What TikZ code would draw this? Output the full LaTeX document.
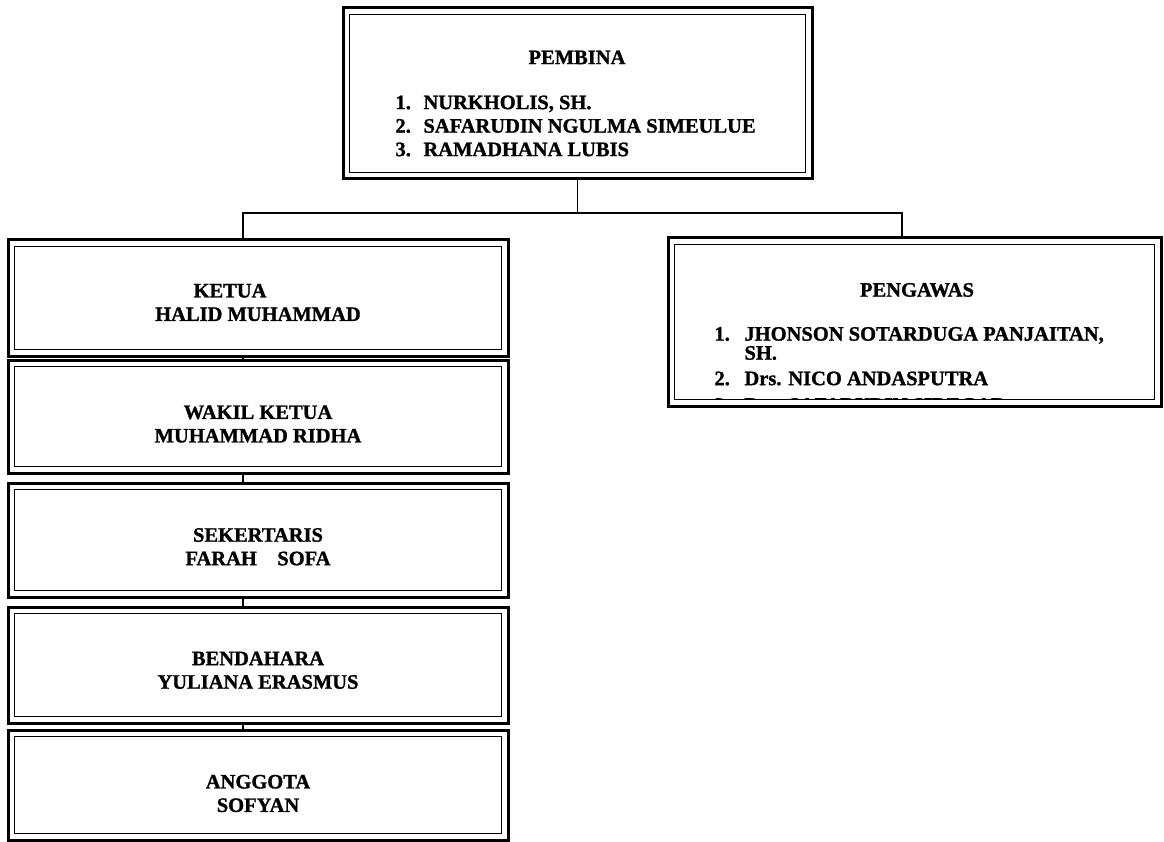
\documentclass[tikz,border=0pt]{standalone}
\usepackage{fontspec}
\setmainfont[BoldFeatures={FakeBold=1.2}]{Liberation Serif}
\newcommand\listline[3]{\makebox[#3pt][l]{\makebox[28pt][l]{#1}#2}}

\begin{document}
\begin{tikzpicture}[x=1pt, y=-1pt,
		frame/.style={draw, line width=3pt, anchor=north west, inner sep=0pt, outer sep=0pt},
		boxtext/.style={font=\bfseries\fontsize{20.5}{23.5}\selectfont, align=center, inner sep=0pt},
		link/.style={line width=1.8pt}]
			%%%%% START %%%%%
			
			\useasboundingbox (0,0) rectangle (1164,842);
			
			\node[frame, minimum width=469pt, minimum height=171pt] (pembina) at (343,8) {};
			\node[frame, minimum width=493pt, minimum height=168pt] (pengawas) at (668,238) {};
			
			\node[frame, minimum width=500pt, minimum height=116pt] (ketua) at (8,240) {};
			\node[frame, minimum width=500pt, minimum height=113pt] (wakil) at (8,360) {};
			\node[frame, minimum width=500pt, minimum height=114pt] (sekretaris) at (8,483) {};
			\node[frame, minimum width=500pt, minimum height=116pt] (bendahara) at (8,607) {};
			\node[frame, minimum width=500pt, minimum height=110pt] (anggota) at (8,730) {};
			
			\foreach \b in {pembina,pengawas,ketua,wakil,sekretaris,bendahara,anggota}
				\draw[line width=1.2pt] ([xshift=6.5pt,yshift=-6.5pt]\b.north west) rectangle ([xshift=-6.5pt,yshift=6.5pt]\b.south east);
			
			\node[boxtext] (pembinatxt) at (577,103.5) {PEMBINA\\[21.5pt]
				\listline{1.}{NURKHOLIS, SH.}{363}\\
				\listline{2.}{SAFARUDIN NGULMA SIMEULUE}{363}\\
				\listline{3.}{RAMADHANA LUBIS}{363}};
			
			\begin{scope}
				\clip ([xshift=-2pt,yshift=2pt]pengawas.north west) rectangle ([xshift=2pt,yshift=6.5pt]pengawas.south east);
				\node[boxtext] (pengawastxt) at (917,347.5) {PENGAWAS\\[20.5pt]
					\makebox[405pt][l]{\makebox[30pt][l]{1.}JHONSON SOTARDUGA PANJAITAN,}\\[-4.5pt]
					\makebox[405pt][l]{\hspace{30pt}SH.}\\[2pt]
					\makebox[405pt][l]{\makebox[30pt][l]{2.}Drs. NICO ANDASPUTRA}\\[3pt]
					\makebox[405pt][l]{\makebox[30pt][l]{3.}Drs. SAFARUDIN SIREGAR}};
			\end{scope}
			
			\node[boxtext] (ketuatxt) at (258,302.5) {KETUA\kern56pt\\HALID MUHAMMAD};
			\node[boxtext] (wakiltxt) at (258,424) {WAKIL KETUA\\MUHAMMAD RIDHA};
			\node[boxtext] (sekretaristxt) at (258,546.75) {SEKERTARIS\\FARAH\hspace{1em}SOFA};
			\node[boxtext] (bendaharatxt) at (258,670.25) {BENDAHARA\\YULIANA ERASMUS};
			\node[boxtext] (anggotatxt) at (258,793.5) {ANGGOTA\\SOFYAN};
			
			\draw[link] (pembina.south) -- ++(0,34) coordinate (hub);
			\draw[link] ([xshift=-15pt]ketua.north) |- (hub) -| ([xshift=-12.5pt]pengawas.north);
			\foreach \a/\b in {ketua/wakil,wakil/sekretaris,sekretaris/bendahara,bendahara/anggota}
				\draw[link] ([xshift=-15pt]\a.south) -- ([xshift=-15pt]\b.north);
			
			%%%%% END %%%%%
\end{tikzpicture}
\end{document}
